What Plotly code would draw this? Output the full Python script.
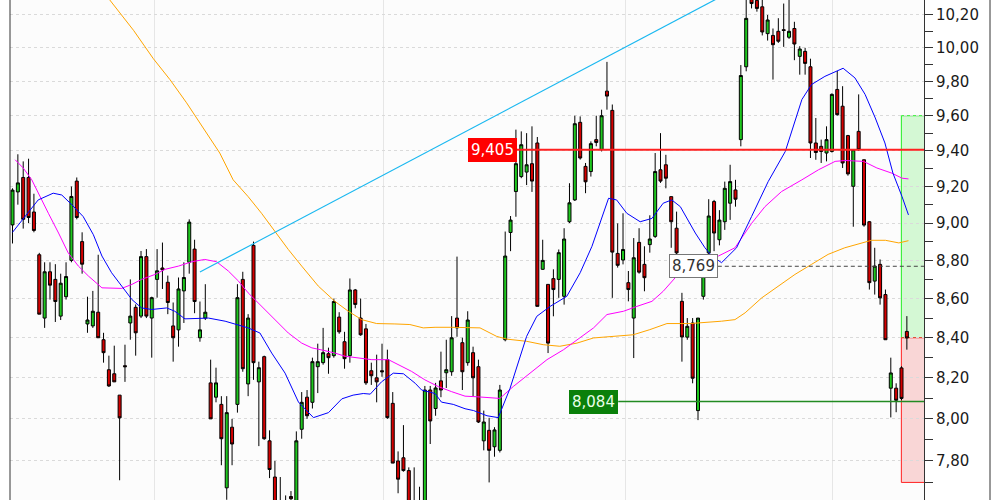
import math
import plotly.graph_objects as go

# ---------------- data ----------------
open_ = [8.99, 9.17, 9.25, 9.25, 9.06, 8.83, 8.50, 8.74, 8.70, 8.51,
         8.61, 8.80, 9.23, 8.90, 8.47, 8.46, 8.53, 8.39, 8.24, 8.22,
         8.115, 8.26, 8.475, 8.555, 8.51, 8.82, 8.50, 8.70, 8.76, 8.685,
         8.46, 8.44, 8.64, 8.79, 8.86, 8.40, 8.50, 8.175, 8.105, 8.07,
         7.675, 7.96, 8.07, 8.70, 8.17, 8.88, 8.18, 8.305, 7.895, 7.725,
         7.60, 7.60, 7.635, 7.60, 7.95, 8.105, 8.08, 8.255, 8.275, 8.32,
         8.31, 8.505, 8.38, 8.31, 8.645, 8.50, 8.445, 8.235, 8.20, 8.235,
         8.29, 8.075, 7.80, 7.815, 7.755, 7.60, 7.60, 7.58, 8.14, 8.05,
         8.185, 8.225, 8.23, 8.50, 8.375, 8.275, 8.325, 8.255, 7.895, 7.945,
         7.867, 7.85, 8.39, 8.949, 9.172, 9.255, 9.28, 9.327, 9.444, 8.753,
         8.674, 8.704, 8.70, 8.612, 9.007, 9.126, 9.562, 9.312, 9.283, 9.463,
         9.406, 9.743, 9.631, 8.837, 8.802, 8.683, 8.50, 8.896, 8.779, 8.884,
         8.928, 9.293, 9.321, 9.144, 8.972, 8.586, 8.403, 8.475, 8.04, 8.612,
         8.84, 9.117, 8.91, 9.007, 9.108, 9.181, 9.463, 9.887, 10.30, 10.29,
         10.25, 10.086, 10.075, 10.10, 10.11, 10.064, 10.117, 9.949, 9.979, 9.887,
         9.444, 9.425, 9.387, 9.396, 9.753, 9.655, 9.486, 9.201, 9.51, 9.349,
         9.007, 8.691, 8.779, 8.621, 8.149, 8.149, 8.249, 8.432]
high = [9.19, 9.38, 9.34, 9.355, 9.16, 8.84, 8.79, 8.79, 8.78, 8.73,
        8.79, 9.20, 9.25, 8.95, 8.61, 8.64, 8.83, 8.425, 8.31, 8.36,
        8.115, 8.365, 8.70, 8.57, 8.85, 8.86, 8.61, 8.86, 8.895, 8.72,
        8.58, 8.71, 8.79, 9.02, 8.91, 8.585, 8.675, 8.29, 8.25, 8.11,
        8.11, 8.00, 8.675, 8.74, 8.52, 8.90, 8.28, 8.31, 7.945, 7.80,
        7.725, 7.64, 7.66, 7.94, 8.13, 8.14, 8.30, 8.37, 8.45, 8.35,
        8.60, 8.53, 8.43, 8.705, 8.65, 8.60, 8.47, 8.275, 8.315, 8.37,
        8.34, 8.13, 7.845, 7.97, 7.77, 7.77, 7.68, 8.16, 8.16, 8.175,
        8.33, 8.39, 8.51, 8.82, 8.40, 8.535, 8.355, 8.29, 8.04, 8.005,
        7.96, 8.165, 8.954, 9.038, 9.52, 9.51, 9.50, 9.539, 9.478, 8.91,
        8.674, 8.753, 8.858, 8.972, 9.218, 9.60, 9.596, 9.331, 9.453, 9.60,
        9.635, 9.916, 9.665, 8.998, 9.053, 8.744, 8.919, 8.972, 8.875, 9.042,
        9.387, 9.50, 9.377, 9.144, 9.062, 8.63, 8.50, 8.50, 8.50, 8.795,
        9.13, 9.126, 9.07, 9.227, 9.321, 9.237, 9.897, 10.32, 10.35, 10.32,
        10.30, 10.20, 10.117, 10.18, 10.27, 10.30, 10.158, 10.01, 10.00, 9.935,
        9.587, 9.463, 9.539, 9.73, 9.862, 9.772, 9.49, 9.406, 9.724, 9.35,
        9.01, 8.867, 8.805, 8.647, 8.30, 8.173, 8.257, 8.51]
low = [8.89, 9.10, 8.97, 9.00, 8.95, 8.52, 8.45, 8.595, 8.48, 8.49,
       8.595, 8.79, 9.02, 8.73, 8.425, 8.45, 8.40, 8.275, 8.155, 8.18,
       7.71, 8.18, 8.39, 8.31, 8.50, 8.50, 8.30, 8.605, 8.65, 8.52,
       8.28, 8.355, 8.475, 8.73, 8.525, 8.38, 8.49, 8.00, 8.08, 7.78,
       7.62, 7.78, 8.03, 8.23, 8.11, 8.19, 7.87, 7.90, 7.72, 7.55,
       7.50, 7.50, 7.55, 7.55, 7.905, 8.00, 8.05, 8.125, 8.265, 8.22,
       8.30, 8.42, 8.245, 8.275, 8.55, 8.41, 8.165, 8.165, 8.08, 8.205,
       8.00, 7.79, 7.65, 7.75, 7.55, 7.50, 7.50, 7.55, 7.88, 8.015,
       8.105, 8.15, 8.21, 8.405, 8.14, 8.26, 8.11, 7.98, 7.85, 7.70,
       7.82, 7.84, 8.382, 8.849, 9.034, 9.246, 9.208, 9.17, 8.56, 8.75,
       8.323, 8.509, 8.604, 8.569, 9.00, 9.12, 9.35, 9.163, 9.255, 9.425,
       9.396, 9.635, 8.604, 8.762, 8.779, 8.586, 8.298, 8.73, 8.638, 8.841,
       8.92, 9.22, 9.19, 8.867, 8.83, 8.28, 8.39, 8.173, 7.994, 8.595,
       8.83, 8.849, 8.88, 8.963, 9.017, 9.089, 9.425, 9.86, 10.24, 10.22,
       10.075, 10.044, 9.811, 10.03, 10.006, 10.054, 9.926, 9.84, 9.84, 9.359,
       9.349, 9.331, 9.34, 9.39, 9.60, 9.303, 9.26, 8.98, 9.40, 8.98,
       8.647, 8.621, 8.569, 8.39, 8.007, 8.032, 8.09, 8.34]
close = [9.18, 9.22, 9.02, 9.03, 8.96, 8.52, 8.74, 8.67, 8.585, 8.68,
         8.715, 9.145, 9.03, 8.78, 8.49, 8.535, 8.40, 8.325, 8.16, 8.18,
         8.005, 8.255, 8.51, 8.425, 8.82, 8.51, 8.605, 8.745, 8.75, 8.58,
         8.40, 8.65, 8.71, 9.005, 8.585, 8.44, 8.53, 8.00, 8.175, 7.905,
         8.03, 7.88, 8.605, 8.245, 8.50, 8.275, 8.25, 7.905, 7.76, 7.58,
         7.55, 7.55, 7.625, 7.895, 8.08, 8.015, 8.28, 8.28, 8.325, 8.30,
         8.585, 8.43, 8.295, 8.645, 8.57, 8.415, 8.175, 8.21, 8.18, 8.23,
         8.006, 7.79, 7.715, 7.755, 7.58, 7.56, 7.56, 8.14, 7.99, 8.15,
         8.14, 8.24, 8.40, 8.45, 8.23, 8.49, 8.20, 7.985, 7.985, 7.85,
         7.947, 8.14, 8.823, 9.016, 9.327, 9.434, 9.321, 9.23, 8.56, 8.80,
         8.373, 8.647, 8.841, 8.914, 9.11, 9.554, 9.359, 9.226, 9.44, 9.447,
         9.60, 9.714, 8.844, 8.774, 8.858, 8.647, 8.814, 8.738, 8.709, 8.914,
         9.283, 9.23, 9.246, 9.007, 8.84, 8.404, 8.458, 8.198, 8.50, 8.726,
         9.038, 8.946, 9.016, 9.19, 9.227, 9.13, 9.835, 10.179, 10.27, 10.24,
         10.096, 10.169, 10.019, 10.04, 10.105, 10.10, 10.023, 9.993, 9.907, 9.444,
         9.39, 9.396, 9.463, 9.724, 9.606, 9.331, 9.27, 9.406, 9.406, 8.989,
         8.683, 8.77, 8.604, 8.39, 8.224, 8.09, 8.099, 8.399]

# moving averages (bar index, value)
ma_fast_idx = [0, 2.3, 4.8, 7.6, 9.2, 11.1, 13.2, 15.1, 16.7, 18.5, 20.4, 22.3, 24.1, 26.0, 28.8,
               30.3, 32.2, 34.7, 36.6, 39.7, 42.2, 44.0, 46.2, 48.4, 50.9, 53.4, 56.2, 59.0, 61.5,
               63.6, 65.5, 66.8, 68.9, 71.1, 73.0, 75.2, 76.4, 78.9, 80.1, 82.3, 84.5, 86.1, 88.6,
               90.7, 92.9, 94.5, 96.0, 97.9, 100.4, 103.5, 106.0, 108.2, 109.7, 111.3, 112.8, 114.7,
               117.2, 119.4, 121.5, 123.1, 124.7, 126.5, 127.5, 129.3, 130.6, 132.4, 135.2, 138.0,
               141.1, 144.3, 147.4, 149.2, 151.7, 155.1, 157.3, 159.2, 161.1, 162.9, 164.4, 166.1, 167.3]
ma_fast = [8.95, 9.035, 9.126, 9.163, 9.153, 9.099, 9.035, 8.937, 8.823, 8.735, 8.665, 8.595, 8.552,
           8.544, 8.552, 8.535, 8.496, 8.50, 8.50, 8.484, 8.462, 8.45, 8.424, 8.323, 8.223, 8.081,
           8.006, 8.03, 8.097, 8.115, 8.123, 8.12, 8.18, 8.223, 8.22, 8.173, 8.14, 8.123, 8.081,
           8.07, 8.049, 8.04, 8.015, 8.006, 8.148, 8.282, 8.407, 8.509, 8.56, 8.612, 8.735, 8.875,
           8.998, 9.135, 9.126, 9.053, 9.007, 9.025, 9.108, 9.126, 9.089, 8.998, 8.946, 8.867,
           8.823, 8.788, 8.867, 9.035, 9.227, 9.396, 9.694, 9.782, 9.83, 9.878, 9.821, 9.724,
           9.587, 9.444, 9.274, 9.144, 9.044]
ma_mid_idx = [0.5, 2.0, 3.6, 5.1, 6.7, 8.6, 10.4, 12.3, 14.2, 16.7, 20.4, 22.3, 24.1, 26.6, 28.5,
              31.0, 33.5, 35.9, 38.1, 40.3, 42.2, 44.0, 46.5, 49.0, 51.5, 54.0, 55.9, 58.0, 60.2,
              62.1, 64.6, 67.1, 70.2, 72.0, 74.5, 77.0, 79.5, 82.0, 84.5, 86.7, 89.8, 91.0, 93.5,
              96.6, 99.8, 102.9, 105.4, 108.5, 111.0, 114.1, 116.6, 119.4, 121.5, 124.0, 126.5,
              131.8, 134.9, 138.0, 140.5, 143.6, 147.4, 150.5, 153.6, 155.5, 158.9, 161.4, 164.2,
              166.1, 167.3]
ma_mid = [9.349, 9.303, 9.237, 9.144, 9.053, 8.946, 8.84, 8.77, 8.717, 8.656, 8.653, 8.674, 8.70,
          8.726, 8.753, 8.77, 8.793, 8.805, 8.793, 8.744, 8.691, 8.63, 8.56, 8.492, 8.424, 8.373,
          8.349, 8.337, 8.323, 8.307, 8.298, 8.29, 8.29, 8.265, 8.232, 8.19, 8.157, 8.132, 8.11,
          8.107, 8.099, 8.099, 8.157, 8.223, 8.29, 8.34, 8.39, 8.45, 8.518, 8.535, 8.56, 8.586,
          8.638, 8.717, 8.77, 8.823, 8.867, 8.998, 9.089, 9.172, 9.237, 9.293, 9.34, 9.345, 9.34,
          9.303, 9.274, 9.246, 9.242]
ma_slow_idx = [14.0, 18.2, 22.6, 26.3, 29.4, 32.5, 35.6, 38.7, 41.2, 44.0, 46.5, 49.0, 51.5, 54.0,
               57.1, 60.2, 62.7, 65.2, 68.0, 71.4, 74.2, 76.7, 78.9, 82.0, 84.5, 87.3, 90.4, 92.3,
               96.0, 99.1, 102.2, 105.4, 108.5, 111.6, 115.9, 119.0, 122.2, 126.5, 129.3, 132.4,
               134.9, 136.8, 139.9, 143.0, 146.1, 149.2, 152.3, 155.4, 158.6, 160.4, 163.0, 165.5, 167.3]
ma_slow = [10.47, 10.294, 10.106, 9.935, 9.811, 9.675, 9.53, 9.387, 9.237, 9.144, 9.053, 8.954,
           8.858, 8.77, 8.665, 8.586, 8.535, 8.492, 8.472, 8.47, 8.467, 8.45, 8.453, 8.453, 8.45,
           8.45, 8.407, 8.393, 8.382, 8.365, 8.357, 8.373, 8.399, 8.407, 8.415, 8.441, 8.472,
           8.472, 8.476, 8.484, 8.492, 8.527, 8.604, 8.665, 8.726, 8.779, 8.832, 8.867, 8.893,
           8.907, 8.907, 8.893, 8.905]

# trend line (bar index, value)
trend_idx = [35.0, 148.8]
trend_val = [8.739, 10.607]

# horizontal levels
level_values = [9.405, 8.769, 8.084]
level_labels = ["9,405", "8,769", "8,084"]
level_start = [94.2, 131.7, 113.1]

# target / stop zones
zone_start = 165.97
target_zone = [8.40, 9.60]
stop_zone = [7.70, 8.40]

# y ticks
tick_vals = [7.80, 8.00, 8.20, 8.40, 8.60, 8.80, 9.00, 9.20, 9.40, 9.60, 9.80, 10.00, 10.20]
tick_text = ["7,80", "8,00", "8,20", "8,40", "8,60", "8,80", "9,00", "9,20", "9,40", "9,60",
             "9,80", "10,00", "10,20"]
minor_vals = [7.70, 7.90, 8.10, 8.30, 8.50, 8.70, 8.90, 9.10, 9.30, 9.50, 9.70, 9.90, 10.10, 10.30]
month_lines = [26.6, 69.2, 114.4, 153.2]

bars = list(range(len(open_)))
x_end = 170.2

fig = go.Figure()

fig.add_trace(go.Candlestick(
    x=bars, open=open_, high=high, low=low, close=close,
    increasing=dict(line=dict(color="#000000", width=1), fillcolor="#1ec81e"),
    decreasing=dict(line=dict(color="#000000", width=1), fillcolor="#d40000"),
    showlegend=False))

fig.add_trace(go.Scatter(x=ma_slow_idx, y=ma_slow, mode="lines",
                         line=dict(color="#ffa500", width=1), showlegend=False))
fig.add_trace(go.Scatter(x=ma_mid_idx, y=ma_mid, mode="lines",
                         line=dict(color="#ff00ff", width=1), showlegend=False))
fig.add_trace(go.Scatter(x=ma_fast_idx, y=ma_fast, mode="lines",
                         line=dict(color="#0000ff", width=1), showlegend=False))
fig.add_trace(go.Scatter(x=trend_idx, y=trend_val, mode="lines",
                         line=dict(color="#1ab8f0", width=1.2), showlegend=False))

level_styles = [
    dict(line=dict(color="#ff2020", width=2), bg="#ff0000", border="#ff0000", font="#ffffff"),
    dict(line=dict(color="#444444", width=1, dash="4px,3px"), bg="#ffffff", border="#777777", font="#333333"),
    dict(line=dict(color="#228b22", width=1.5), bg="#0a800a", border="#0a800a", font="#e8ffe8"),
]
annotations = []
for val, lab, start, st in zip(level_values, level_labels, level_start, level_styles):
    fig.add_trace(go.Scatter(x=[start, x_end + 1], y=[val, val], mode="lines",
                             line=st["line"], showlegend=False))
    annotations.append(dict(
        x=start, y=math.log10(val), xref="x", yref="y", text=lab, showarrow=False,
        xanchor="right", yanchor="middle",
        font=dict(family="DejaVu Sans", size=15, color=st["font"]),
        bgcolor=st["bg"], bordercolor=st["border"], borderwidth=1, borderpad=2))

shapes = [
    # target / stop zones, below the candles
    dict(type="rect", xref="x", yref="y", x0=zone_start, x1=x_end + 1,
         y0=target_zone[0], y1=target_zone[1], layer="below",
         fillcolor="#d4f8d4", line=dict(color="#22ee22", width=1)),
    dict(type="rect", xref="x", yref="y", x0=zone_start, x1=x_end + 1,
         y0=stop_zone[0], y1=stop_zone[1], layer="below",
         fillcolor="#f9d6d6", line=dict(color="#ff2020", width=1)),
    # frame lines
    dict(type="line", xref="paper", yref="paper", x0=0, x1=0, y0=0, y1=1,
         line=dict(color="#333333", width=1)),
    dict(type="line", xref="paper", yref="paper", x0=1, x1=1, y0=0, y1=1,
         line=dict(color="#333333", width=1)),
]

fig.update_layout(
    width=1000, height=500,
    margin=dict(l=10, r=10, t=0, b=0),
    paper_bgcolor="#ffffff", plot_bgcolor="#fcfcfc",
    showlegend=False, boxgap=0.2,
    annotations=annotations, shapes=shapes,
    xaxis=dict(domain=[0, 914 / 980], range=[-0.467, x_end], rangeslider=dict(visible=False),
               showticklabels=False, tickmode="array", tickvals=month_lines, ticks="",
               showgrid=True, gridcolor="#e6e6e6", gridwidth=1, zeroline=False, showline=False),
    yaxis=dict(type="log", side="right", anchor="x",
               range=[math.log10(7.619), math.log10(10.292)],
               tickmode="array", tickvals=tick_vals, ticktext=tick_text,
               ticks="outside", ticklen=8, tickcolor="#333333",
               showline=True, linecolor="#333333", linewidth=1,
               showgrid=True, gridcolor="#dadada", griddash="dot", zeroline=False,
               tickfont=dict(family="DejaVu Sans", size=15, color="#1a1a1a"),
               minor=dict(tickmode="array", tickvals=minor_vals, ticks="outside", ticklen=8,
                          tickcolor="#333333", showgrid=False)),
)

fig.write_html("out.html", config={"displayModeBar": False},
               post_script="document.body.style.margin='0px';")
